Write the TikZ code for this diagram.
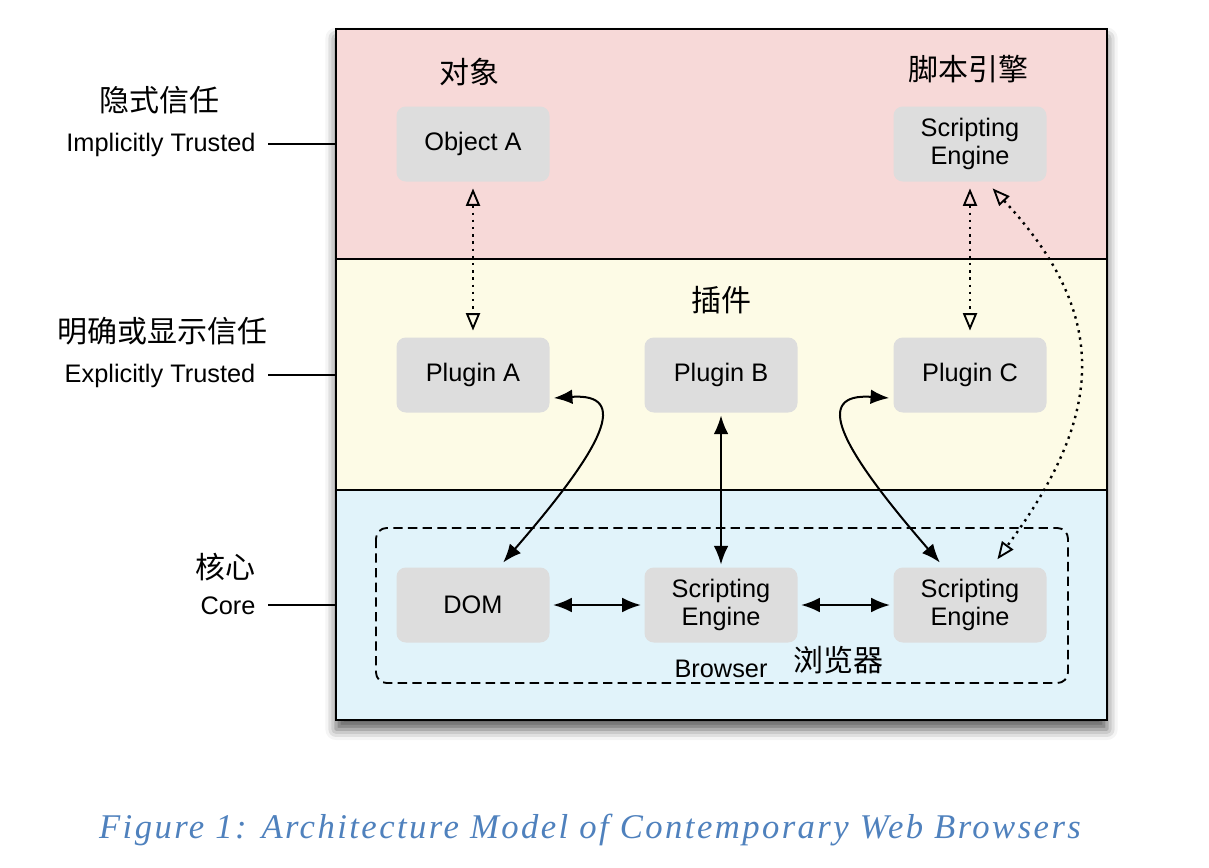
\documentclass[tikz,border=0pt]{standalone}
\usepackage{fontspec}
\setmainfont{Liberation Sans}
\newfontfamily\cjk{Noto Sans CJK SC}
\newfontfamily\capfont[LetterSpace=7]{Liberation Serif}
\usetikzlibrary{arrows.meta,shadows.blur}
\definecolor{bandpink}{HTML}{F7D9D8}
\definecolor{bandyellow}{HTML}{FDFBE6}
\definecolor{bandblue}{HTML}{E1F3FA}
\definecolor{boxgray}{HTML}{DDDDDD}
\definecolor{capblue}{HTML}{4F81BD}
\tikzset{
  compbox/.style={fill=boxgray, rounded corners=7pt, minimum width=114.75pt, minimum height=56.25pt, align=center, font=\fontsize{19}{21.5}\selectfont, inner sep=0pt},
  enlabel/.style={font=\fontsize{19}{21.5}\selectfont, inner sep=0pt},
  cnlabel/.style={font=\cjk\fontsize{22.5}{26}\selectfont, inner sep=0pt},
  solidarrow/.style={line width=1.5pt, {Latex[length=14pt,width=11pt,fill=black]}-{Latex[length=14pt,width=11pt,fill=black]}},
  dotarrow/.style={line width=1.8pt, dash pattern=on 1.8pt off 3.6pt, {Triangle[open,length=13pt,width=10.5pt,line width=1.4pt]}-{Triangle[open,length=13pt,width=10.5pt,line width=1.4pt]}},
  tickline/.style={line width=1.5pt}
}
\begin{document}
\begin{tikzpicture}[x=0.75pt,y=-0.75pt]
\useasboundingbox (0,0) rectangle (1209,867);
% shadow and bands
\path[fill=white, blur shadow={shadow xshift=0pt, shadow yshift=-7pt, shadow blur radius=8pt, shadow opacity=65}] (336,29) rectangle (1107,720);
\fill[bandpink] (336,29) rectangle (1107,259);
\fill[bandyellow] (336,259) rectangle (1107,490);
\fill[bandblue] (336,490) rectangle (1107,720);
\draw[line width=1.3pt] (336,259) -- (1107,259);
\draw[line width=1.3pt] (336,490) -- (1107,490);
\draw[line width=1.5pt] (336,29) rectangle (1107,720);
% browser dashed frame
\draw[line width=1.4pt, dash pattern=on 7pt off 4pt, rounded corners=8pt] (376,528) rectangle (1068,683);
% left labels
\node[cnlabel] (l1cn) at (159,100) {隐式信任};
\node[enlabel] (l1en) at (161,145) {Implicitly Trusted};
\node[cnlabel] (l2cn) at (162,331) {明确或显示信任};
\node[enlabel] (l2en) at (160,376) {Explicitly Trusted};
\node[cnlabel] (l3cn) at (225,567) {核心};
\node[enlabel] (l3en) at (228,606) {Core};
\coordinate (t1a) at (268,144); \coordinate (t1b) at (336,144);
\coordinate (t2a) at (268,375); \coordinate (t2b) at (336,375);
\coordinate (t3a) at (268,605); \coordinate (t3b) at (336,605);
\draw[tickline] (t1a) -- (t1b);
\draw[tickline] (t2a) -- (t2b);
\draw[tickline] (t3a) -- (t3b);
% band labels
\node[cnlabel] (cnobj) at (469,72) {对象};
\node[cnlabel] (cnse) at (968,69) {脚本引擎};
\node[cnlabel] (cnplug) at (721,300) {插件};
\node[enlabel] (browser) at (721,669) {Browser};
\node[cnlabel] (cnbrowser) at (838,660) {浏览器};
% components
\node[compbox] (oa) at (473,144) {\raisebox{-2pt}{Object A}};
\node[compbox] (se1) at (970,144) {Scripting\\Engine};
\node[compbox] (pa) at (473,375) {\raisebox{-2pt}{Plugin A}};
\node[compbox] (pb) at (721,375) {\raisebox{-2pt}{Plugin B}};
\node[compbox] (pc) at (970,375) {\raisebox{-2pt}{Plugin C}};
\node[compbox] (dom) at (473,605) {\raisebox{-2pt}{DOM}};
\node[compbox] (se2) at (721,605) {Scripting\\Engine};
\node[compbox] (se3) at (970,605) {Scripting\\Engine};
% dotted connectors
\draw[dotarrow, shorten <=5pt, shorten >=5pt] (oa.south) -- (pa.north);
\draw[dotarrow, shorten <=5pt, shorten >=5pt] (se1.south) -- (pc.north);
\draw[dotarrow] ([xshift=17pt,yshift=-5pt]se1.south) .. controls (1115,320) and (1100,420) .. ([xshift=-37pt,yshift=6pt]se3.north east);
% solid connectors
\draw[solidarrow, shorten <=2pt, shorten >=2pt] (pb.south) -- (se2.north);
\draw[solidarrow, shorten <=2.5pt, shorten >=2.5pt] (dom.east) -- (se2.west);
\draw[solidarrow, shorten <=2.5pt, shorten >=2.5pt] (se2.east) -- (se3.west);
\draw[solidarrow] ([xshift=3pt,yshift=-17.25pt]pa.east) .. controls (630,393) and (605,445) .. ([xshift=-35pt,yshift=3.5pt]dom.north east);
\draw[solidarrow] ([xshift=-3pt,yshift=-17.25pt]pc.west) .. controls (813,393) and (838,445) .. ([xshift=35pt,yshift=3.5pt]se3.north west);
% caption
\node[font=\capfont\itshape\fontsize{26}{30}\selectfont, text=capblue, inner sep=0pt] (caption) at (590,830) {Figure 1: Architecture Model of Contemporary Web Browsers};
\end{tikzpicture}
\end{document}
